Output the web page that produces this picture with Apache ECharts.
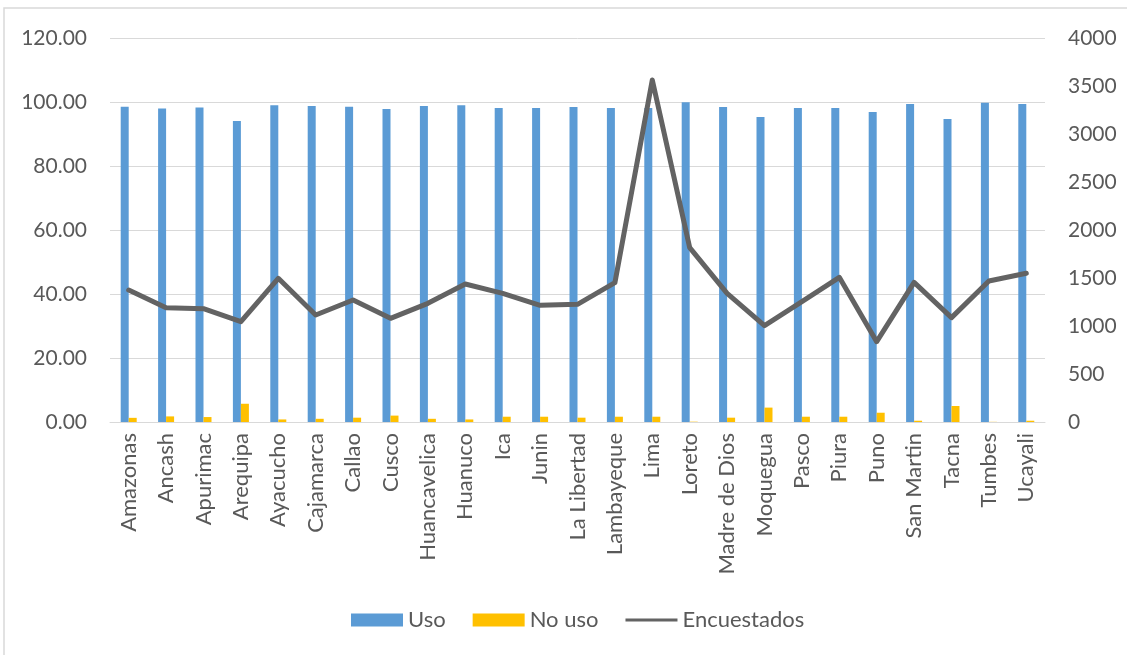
<!DOCTYPE html>
<html>
<head>
<meta charset="utf-8">
<script src="https://cdn.jsdelivr.net/npm/echarts@6/dist/echarts.min.js"></script>
<style>
  html, body { margin: 0; padding: 0; background: #ffffff; }
  #chart { width: 1127px; height: 655px; }
</style>
</head>
<body>
<div id="chart"></div>
<script>
// regiones
var categories = ['Amazonas', 'Ancash', 'Apurimac', 'Arequipa', 'Ayacucho', 'Cajamarca', 'Callao', 'Cusco',
  'Huancavelica', 'Huanuco', 'Ica', 'Junin', 'La Libertad', 'Lambayeque', 'Lima', 'Loreto', 'Madre de Dios',
  'Moquegua', 'Pasco', 'Piura', 'Puno', 'San Martin', 'Tacna', 'Tumbes', 'Ucayali']
// porcentajes
var uso = [98.5, 98.0, 98.3, 94.1, 99.0, 98.75, 98.5, 97.8, 98.75, 99.0, 98.1, 98.1, 98.4, 98.1, 98.1, 99.9,
  98.4, 95.3, 98.1, 98.1, 96.9, 99.4, 94.7, 99.8, 99.4]
var noUso = [1.3, 1.75, 1.55, 5.7, 0.8, 1.0, 1.35, 2.0, 1.0, 0.8, 1.65, 1.65, 1.35, 1.65, 1.65, 0.1,
  1.35, 4.5, 1.65, 1.65, 2.9, 0.4, 5.0, 0.05, 0.4]
// total encuestados
var encuestados = [1375, 1191, 1180, 1045, 1497, 1115, 1271, 1080, 1236, 1437, 1340, 1215, 1226, 1451, 3562,
  1816, 1340, 1003, 1253, 1507, 837, 1455, 1087, 1469, 1549]
var leftTicks = { min: 0, max: 120, interval: 20 }
var rightTicks = { min: 0, max: 4000, interval: 500 }

var txt = '#595959'
var font = "Lato, 'Open Sans', sans-serif"

var myChart = echarts.init(document.getElementById('chart'))
myChart.setOption({
  animation: false,
  textStyle: { fontFamily: font },
  graphic: [
    {
      type: 'rect',
      shape: { x: 4, y: 8, width: 1200, height: 700 },
      style: { fill: 'none', stroke: '#d9d9d9', lineWidth: 1.5 },
    },
  ],
  grid: { left: 110, right: 82, top: 38, bottom: 233 },
  legend: {
    bottom: 19,
    left: 346,
    itemWidth: 52,
    itemHeight: 13,
    itemGap: 27,
    textStyle: { color: txt, fontSize: 22, fontFamily: font },
    data: [
      { name: 'Uso', icon: 'rect' },
      { name: 'No uso', icon: 'rect' },
      { name: 'Encuestados', icon: 'path://M0,5 L52,5 L52,8 L0,8 Z' },
    ],
  },
  xAxis: {
    type: 'category',
    data: categories,
    axisLine: { lineStyle: { color: '#d9d9d9', width: 1 } },
    axisTick: { show: false },
    axisLabel: {
      rotate: 90,
      interval: 0,
      color: txt,
      fontSize: 22,
      margin: 11,
      fontFamily: font,
    },
  },
  yAxis: [
    {
      type: 'value',
      min: leftTicks.min,
      max: leftTicks.max,
      interval: leftTicks.interval,
      axisLine: { show: false },
      axisTick: { show: false },
      splitLine: { lineStyle: { color: '#d9d9d9', width: 1 } },
      axisLabel: {
        color: txt,
        fontSize: 21,
        margin: 23,
        fontFamily: font,
        formatter: function (v) { return v.toFixed(2) },
      },
    },
    {
      type: 'value',
      min: rightTicks.min,
      max: rightTicks.max,
      interval: rightTicks.interval,
      axisLine: { show: false },
      axisTick: { show: false },
      splitLine: { show: false },
      axisLabel: {
        color: txt,
        fontSize: 21,
        margin: 23,
        fontFamily: font,
        formatter: function (v) { return String(v) },
      },
    },
  ],
  series: [
    {
      name: 'Uso',
      type: 'bar',
      data: uso,
      barWidth: 8,
      barGap: '0%',
      itemStyle: { color: '#5b9bd5' },
    },
    {
      name: 'No uso',
      type: 'bar',
      data: noUso,
      barWidth: 8,
      itemStyle: { color: '#ffc000' },
    },
    {
      name: 'Encuestados',
      type: 'line',
      yAxisIndex: 1,
      data: encuestados,
      showSymbol: false,
      symbol: 'none',
      lineStyle: { color: '#636363', width: 5, cap: 'round', join: 'round' },
      itemStyle: { color: '#636363' },
    },
  ],
})
</script>
</body>
</html>
